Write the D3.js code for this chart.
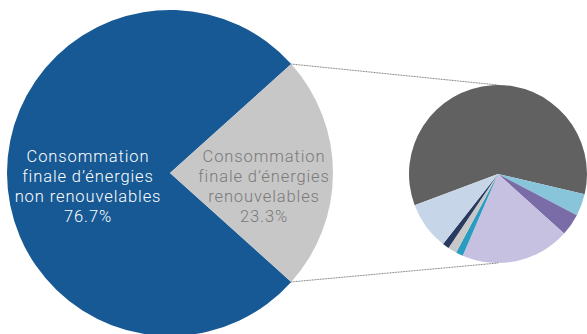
<!DOCTYPE html>
<html><head><meta charset="utf-8">
<script src="https://cdn.jsdelivr.net/npm/d3@7"></script>
<style>html,body{margin:0;padding:0;background:#fff;}svg{display:block;}</style>
</head><body>
<svg id="chart" width="587" height="334"></svg>
<script>
// Main pie
const mainCategories = ["Consommation finale d'énergies non renouvelables", "Consommation finale d'énergies renouvelables"];
const mainValues = [76.7, 23.3];
const mainLabels = [["Consommation", "finale d’énergies", "non renouvelables", "76.7%"],
                    ["Consommation", "finale d’énergies", "renouvelables", "23.3%"]];
const mainColors = ["#175994", "#c7c7c7"];
const mainTextColors = ["#ffffff", "#7a7a7a"];

// Breakdown of renewables (unlabelled in the source)
const subCategories = ["Part 1", "Part 2", "Part 3", "Part 4", "Part 5", "Part 6", "Part 7", "Part 8"];
const subValues = [59.3, 4.0, 4.0, 19.8, 1.3, 1.6, 1.2, 8.7];
const subColors = ["#616161", "#89c5da", "#7a6ca6", "#c6c1e1", "#2b9cc1", "#c8c8c8", "#293a62", "#c6d6e8"];

const svg = d3.select("#chart");

// ---- main pie
const cx1 = 170, cy1 = 173, r1 = 163;
const grayHalf = Math.PI * mainValues[1] / d3.sum(mainValues);
const mainStart = Math.PI / 2 - grayHalf - 2 * Math.PI * mainValues[0] / d3.sum(mainValues);
const mainPie = d3.pie().sort(null).startAngle(mainStart).endAngle(mainStart + 2 * Math.PI);
const mainArcs = mainPie(mainValues);
const arc1 = d3.arc().innerRadius(0).outerRadius(r1);
const g1 = svg.append("g").attr("transform", `translate(${cx1},${cy1})`);
g1.selectAll("path").data(mainArcs).join("path")
  .attr("d", arc1).attr("fill", (d, i) => mainColors[i]);

// ---- sub pie
const cx2 = 498, cy2 = 174, r2 = 89;
const subStart = -110.5 * Math.PI / 180;
const subPie = d3.pie().sort(null).startAngle(subStart).endAngle(subStart + 2 * Math.PI);
const arc2 = d3.arc().innerRadius(0).outerRadius(r2);
const g2 = svg.append("g").attr("transform", `translate(${cx2},${cy2})`);
g2.selectAll("path").data(subPie(subValues)).join("path")
  .attr("d", arc2).attr("fill", (d, i) => subColors[i]);

// ---- connector lines
const gArc = mainArcs[1];
const pt = a => [cx1 + r1 * Math.sin(a), cy1 - r1 * Math.cos(a)];
const pTop = pt(gArc.startAngle), pBot = pt(gArc.endAngle);
const conn = [[pTop, [cx2, cy2 - r2]], [pBot, [cx2, cy2 + r2]]];
svg.selectAll("line.conn").data(conn).join("line").attr("class", "conn")
  .attr("x1", d => d[0][0]).attr("y1", d => d[0][1])
  .attr("x2", d => d[1][0]).attr("y2", d => d[1][1])
  .attr("stroke", "#7a7a7a").attr("stroke-width", 1).attr("stroke-dasharray", "1,0.6");

// ---- labels
const labelPos = [[88, 162], [264, 162]];
mainLabels.forEach((lines, i) => {
  const t = svg.append("text")
    .attr("text-anchor", "middle")
    .attr("font-family", "Roboto, 'DejaVu Sans', sans-serif")
    .attr("font-weight", 300)
    .attr("font-size", 16.5)
    .attr("letter-spacing", 0.9)
    .attr("fill", mainTextColors[i]);
  lines.forEach((s, j) => {
    t.append("tspan").attr("x", labelPos[i][0]).attr("y", labelPos[i][1] + j * 20).text(s);
  });
});
</script>
</body></html>
